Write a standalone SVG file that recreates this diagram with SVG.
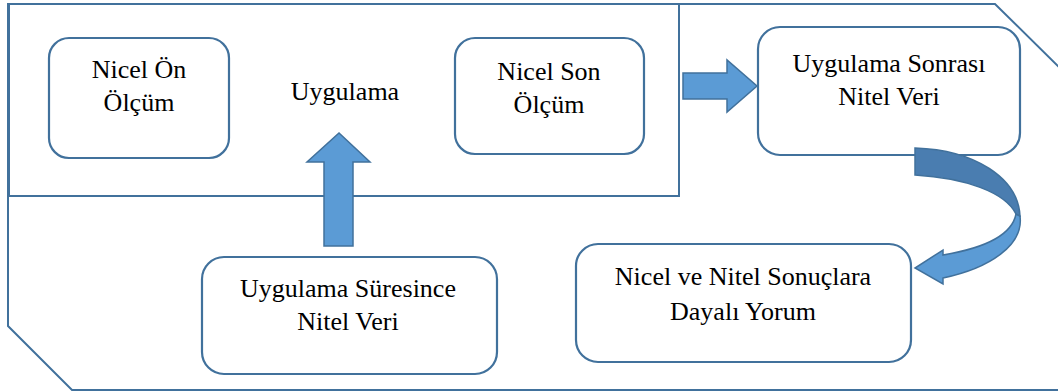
<svg xmlns="http://www.w3.org/2000/svg" width="1058" height="392" viewBox="0 0 1058 392">
<rect width="1058" height="392" fill="#fff"/>
<g fill="none" stroke="#41719c" stroke-width="2">
<g id="outer">
<polyline points="1062,70 995,4 8,4 8,326 72,390 1062,390"/>
</g>
<g id="uygulama-frame">
<rect x="9" y="4" width="670" height="192"/>
</g>
</g>
<g fill="#fff" stroke="#41719c" stroke-width="2.2">
<rect id="box-nicel-on" x="49" y="38" width="180" height="120" rx="20"/>
<rect id="box-nicel-son" x="455" y="38" width="189" height="116" rx="20"/>
<rect id="box-sonrasi" x="758" y="27" width="262" height="128" rx="22"/>
<rect id="box-suresince" x="202" y="257" width="295" height="117" rx="22"/>
<rect id="box-yorum" x="576" y="244" width="335" height="118" rx="22"/>
</g>
<text id="uygulama" x="345" y="100" font-size="26" font-family="Times New Roman, Liberation Serif, serif" text-anchor="middle">Uygulama</text>
<g id="nicel-on">
<text x="139" y="78" font-size="26" font-family="Times New Roman, Liberation Serif, serif" text-anchor="middle">Nicel Ön</text>
<text x="139" y="111" font-size="26" font-family="Times New Roman, Liberation Serif, serif" text-anchor="middle">Ölçüm</text>
</g>
<g id="nicel-son">
<text x="549" y="80" font-size="26" font-family="Times New Roman, Liberation Serif, serif" text-anchor="middle">Nicel Son</text>
<text x="549" y="113" font-size="26" font-family="Times New Roman, Liberation Serif, serif" text-anchor="middle">Ölçüm</text>
</g>
<g id="sonrasi">
<text x="889" y="72" font-size="26" font-family="Times New Roman, Liberation Serif, serif" text-anchor="middle">Uygulama Sonrası</text>
<text x="889" y="105" font-size="26" font-family="Times New Roman, Liberation Serif, serif" text-anchor="middle">Nitel Veri</text>
</g>
<g id="suresince">
<text x="348" y="297" font-size="26" font-family="Times New Roman, Liberation Serif, serif" text-anchor="middle">Uygulama Süresince</text>
<text x="348" y="330" font-size="26" font-family="Times New Roman, Liberation Serif, serif" text-anchor="middle">Nitel Veri</text>
</g>
<g id="yorum">
<text x="743" y="285" font-size="26" font-family="Times New Roman, Liberation Serif, serif" text-anchor="middle">Nicel ve Nitel Sonuçlara</text>
<text x="743" y="320" font-size="26" font-family="Times New Roman, Liberation Serif, serif" text-anchor="middle">Dayalı Yorum</text>
</g>
<g id="connectors" fill="#5b9bd5" stroke="#41719c" stroke-width="1.5">
<polygon points="683,73 727,73 727,60 757,86 727,112 727,99 683,99"/>
<polygon points="324,246 324,162 307,162 339,133 370,162 353,162 353,246"/>
<path d="M1020,216 C1024,245 990,268 943,278 L943,284 L915,268 L943,250 L943,255 C985,248 1012,235 1016,214 Z"/>
<path fill="#4a7db0" d="M915,148 C975,150 1018,178 1020,216 L1016,214 C1005,192 965,178 915,175 Z"/>
</g>
</svg>
